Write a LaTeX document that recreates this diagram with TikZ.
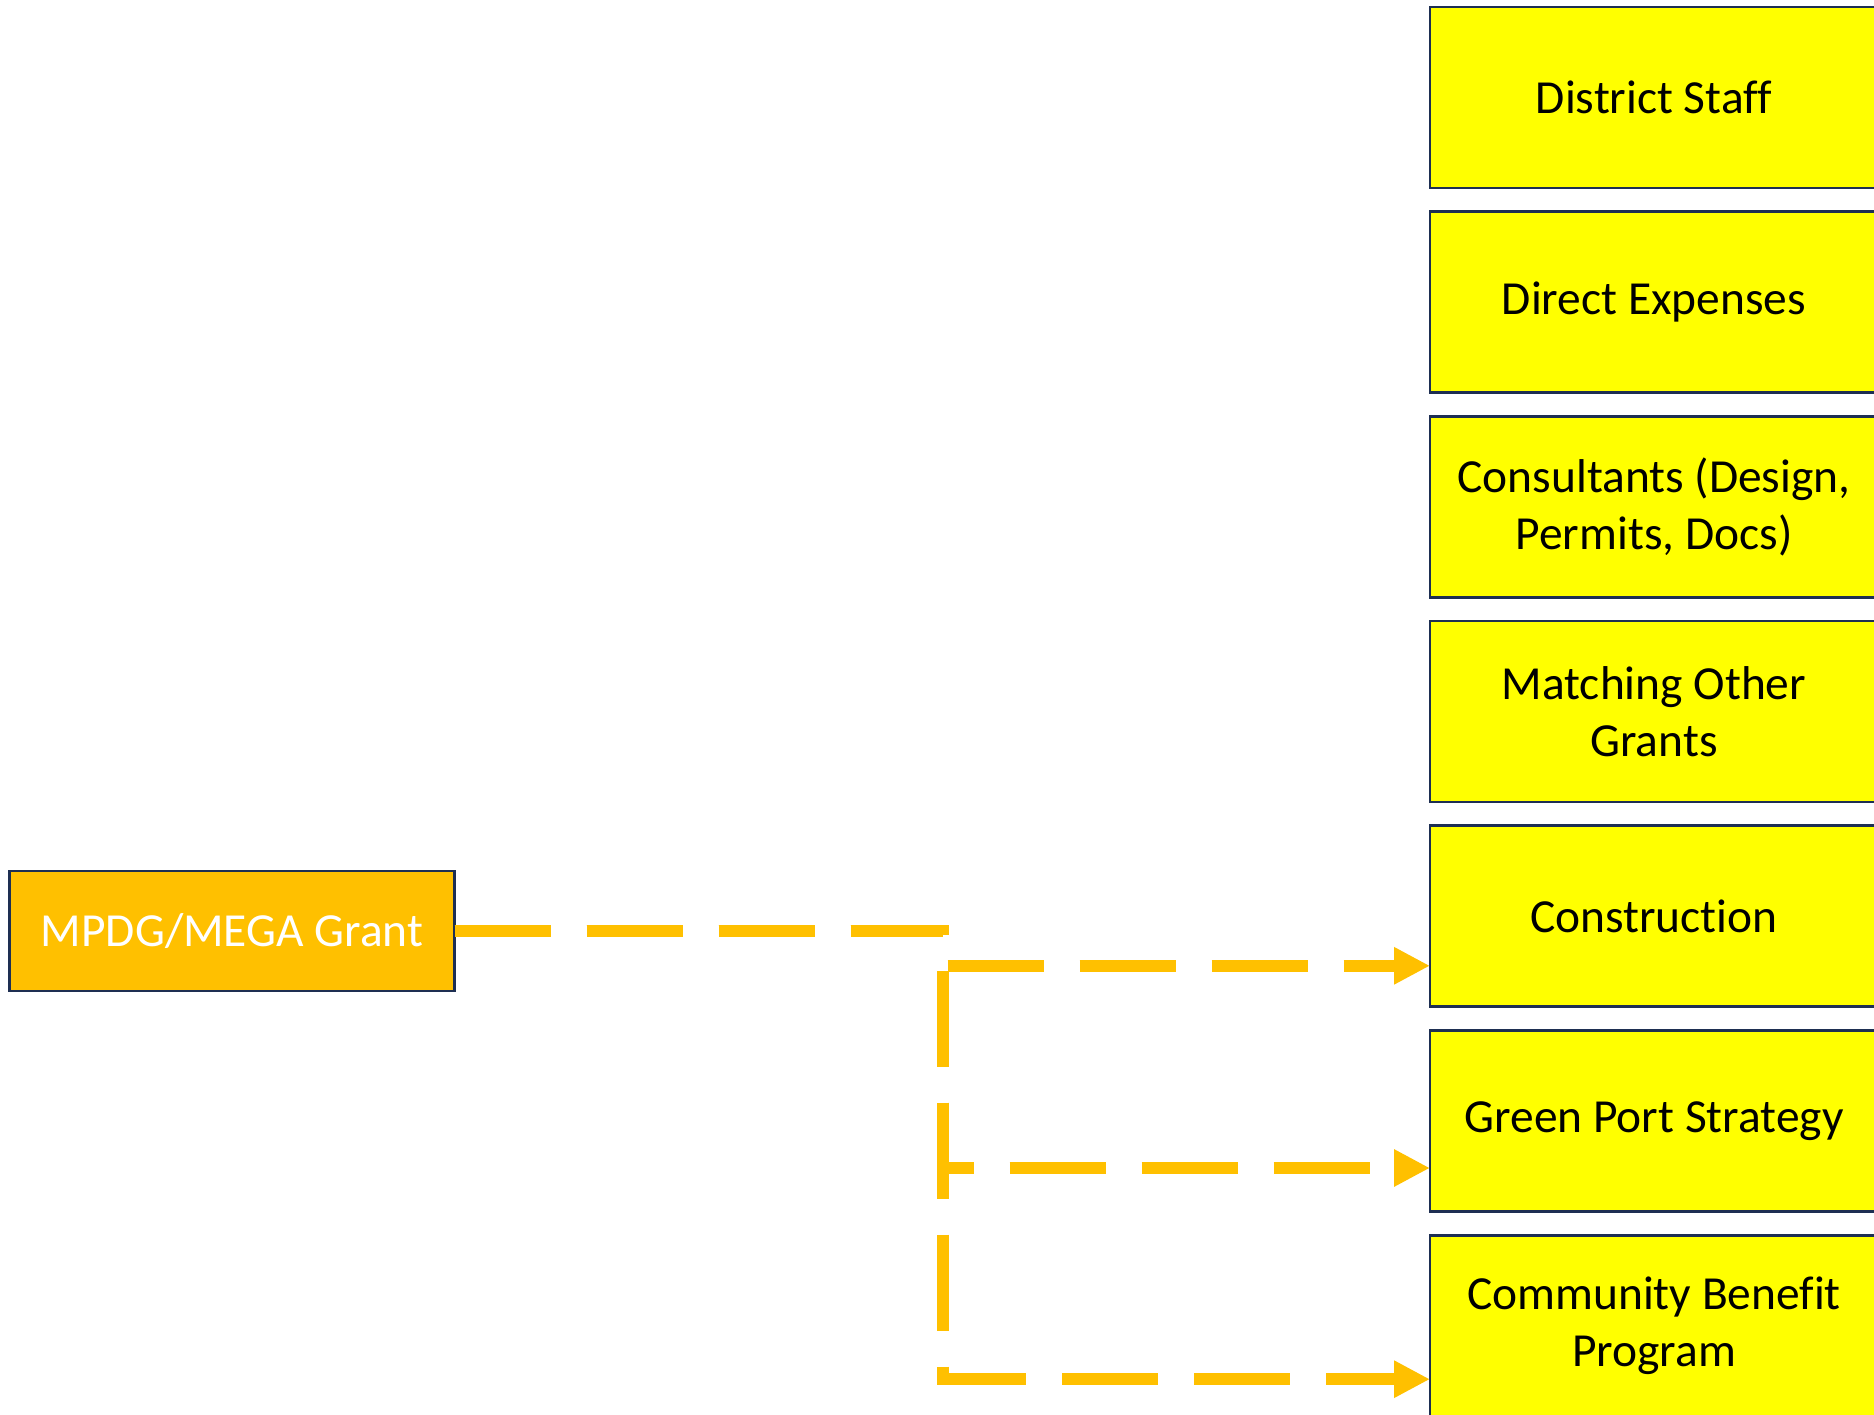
\documentclass[tikz,border=0pt]{standalone}
\usepackage{fontspec}
\setmainfont{Carlito}[Ligatures = NoCommon]
\usepackage{tkz-graph}
\usetikzlibrary{arrows.meta}
\usetikzlibrary{shapes}
\definecolor{boxgold}{HTML}{FFC000}
\definecolor{boxyellow}{HTML}{FFFF00}
\definecolor{boxline}{HTML}{1E2F52}

\begin{document}
\begin{tikzpicture}[scale = 2]
\tikzstyle{VertexStyle} = []
\tikzstyle{EdgeStyle} = []
\tikzstyle{sourceStyle}=[shape = rectangle, draw = boxline, line width = 1.5pt, fill = boxgold, text = white, minimum width = 8.9cm, minimum height = 2.4cm, font = \fontsize{27}{32.7}\selectfont]
\tikzstyle{fundStyle}=[shape = rectangle, draw = boxline, line width = 1.5pt, fill = boxyellow, text = black, align = center, minimum width = 8.96cm, minimum height = 3.62cm, font = \fontsize{27}{32.7}\selectfont]
\tikzstyle{linkStyle}=[draw = boxgold, line width = 0.24cm, dash pattern = on 1.92cm off 0.72cm, -{Triangle[length = 0.72cm, width = 0.7cm]}]
\useasboundingbox (0,0) rectangle (18.74,-14.15);
\Vertex[style = sourceStyle, x = 2.32, y = -9.31, L = {MPDG/MEGA Grant}]{grant}
\Vertex[style = fundStyle, x = 16.54, y = -0.975, L = {District Staff}]{staff}
\Vertex[style = fundStyle, x = 16.54, y = -3.022, L = {Direct Expenses}]{expenses}
\Vertex[style = fundStyle, x = 16.54, y = -5.069, L = {Consultants (Design,\\Permits, Docs)}]{consultants}
\Vertex[style = fundStyle, x = 16.54, y = -7.116, L = {Matching Other\\Grants}]{matching}
\Vertex[style = fundStyle, x = 16.54, y = -9.163, L = {Construction}]{construction}
\Vertex[style = fundStyle, x = 16.54, y = -11.21, L = {Green Port Strategy}]{greenport}
\Vertex[style = fundStyle, x = 16.54, y = -13.257, L = {Community Benefit\\Program}]{community}
\coordinate (bend) at (9.43,-9.31);
\draw[linkStyle] (grant.east) -- (bend) |- ([yshift = -0.495cm]construction.west);
\draw[linkStyle] (grant.east) -- (bend) |- ([yshift = -0.47cm]greenport.west);
\draw[linkStyle] (grant.east) -- (bend) |- ([yshift = -0.535cm]community.west);
\end{tikzpicture}
\end{document}
